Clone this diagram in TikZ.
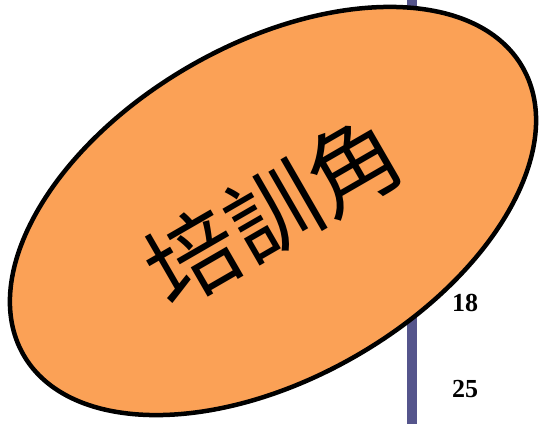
\documentclass[tikz,border=0pt]{standalone}
\usepackage{fontspec}
\setmainfont{Liberation Serif}
\newfontfamily\cjk{Noto Sans CJK TC}
\usetikzlibrary{shapes.geometric}
\definecolor{barblue}{RGB}{85,85,140}
\definecolor{blobfill}{RGB}{251,161,86}
\tikzset{
  blob/.style={ellipse, draw=black, line width=4.5pt, fill=blobfill, inner sep=0pt},
  num/.style={font=\fontsize{26}{28}\selectfont\bfseries, inner sep=0pt}
}
\begin{document}
\begin{tikzpicture}[x=1pt,y=-1pt]
\useasboundingbox (0,0) rectangle (539,424);
\fill [barblue] (407,0) rectangle (417,424);
\node [blob, minimum width=576pt, minimum height=334pt, rotate=30] (0) at (273,211)
  {\cjk\fontsize{92}{96}\selectfont 培訓角};
\node [num] (1) at (465,303) {18};
\node [num] (2) at (465,389) {25};
\end{tikzpicture}
\end{document}
